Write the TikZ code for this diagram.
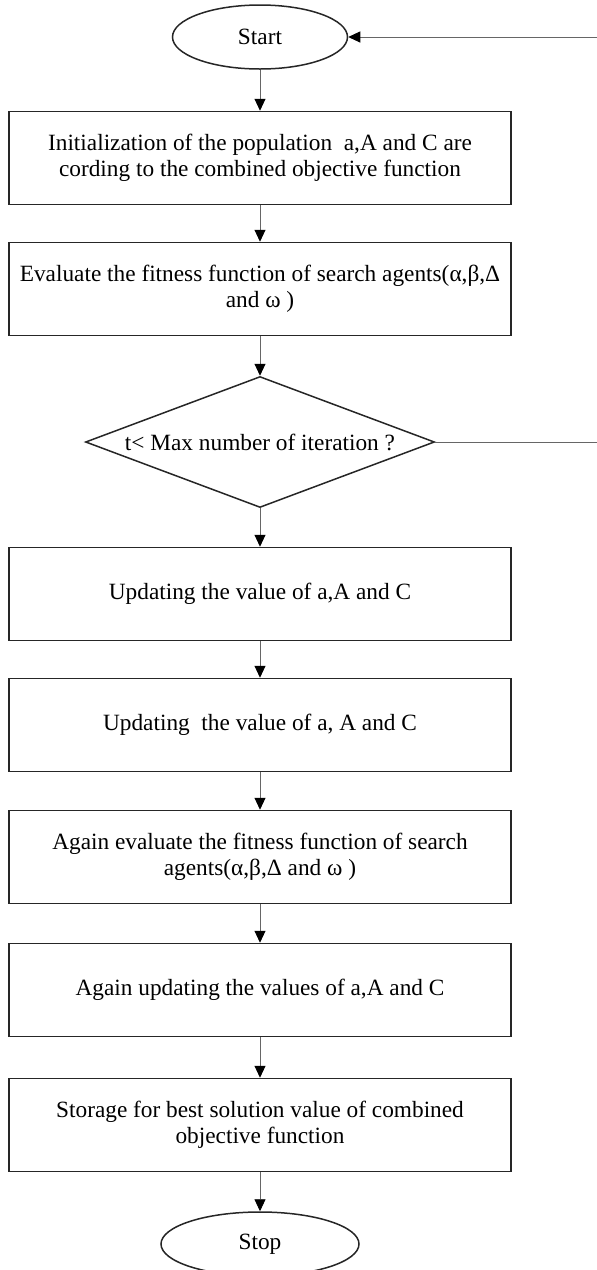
\documentclass[tikz,border=0pt]{standalone}
\usepackage{fontspec}
\setmainfont{Liberation Serif}
\usetikzlibrary{shapes.geometric,arrows.meta}
\begin{document}
\begin{tikzpicture}[x=1pt,y=-1pt,
  box/.style={draw=black!85,line width=1.5pt,rectangle,minimum width=502pt,minimum height=93pt,align=center,inner sep=0pt},
  oval/.style={draw=black!85,line width=1.5pt,ellipse,inner sep=0pt},
  conn/.style={draw=black!60,line width=0.9pt},
  arr/.style={conn,-{Triangle[length=12pt,width=11pt,fill=black,color=black]}},
  every node/.style={font=\fontsize{23.3}{25.5}\selectfont}]
\useasboundingbox (0,0) rectangle (597,1270);
\node[oval,minimum width=175pt,minimum height=64pt] (start) at (260,37) {Start};
\node[box] (b1) at (260,158) {Initialization of the population\ \ a,A and C are\\cording to the combined objective function};
\node[box] (b2) at (260,289) {Evaluate the fitness function of search agents(α,β,Δ\\and ω )};
\node[draw=black!85,line width=1.5pt,diamond,minimum width=349pt,minimum height=131pt,inner sep=0pt] (dia) at (260,442) {};
\node (diatext) at (dia.center) {t< Max number of iteration ?};
\node[box] (b3) at (260,594) {Updating the value of a,A and C};
\node[box] (b4) at (260,725) {Updating\ \ the value of a, A and C};
\node[box] (b5) at (260,857) {Again evaluate the fitness function of search\\agents(α,β,Δ and ω )};
\node[box] (b6) at (260,990) {Again updating the values of a,A and C};
\node[box] (b7) at (260,1125) {Storage for best solution value of combined\\objective function};
\node[oval,minimum width=198pt,minimum height=64pt] (stop) at (260,1244) {Stop};
\coordinate (rin) at (597,37);
\coordinate (rout) at (597,442);
\draw[arr] (rin) -- (start);
\draw[arr] (start) -- (b1);
\draw[arr] (b1) -- (b2);
\draw[arr] (b2) -- (dia);
\draw[conn] (dia.east) -- (rout);
\draw[arr] (dia) -- (b3);
\draw[arr] (b3) -- (b4);
\draw[arr] (b4) -- (b5);
\draw[arr] (b5) -- (b6);
\draw[arr] (b6) -- (b7);
\draw[arr] (b7) -- (stop);
\end{tikzpicture}
\end{document}
